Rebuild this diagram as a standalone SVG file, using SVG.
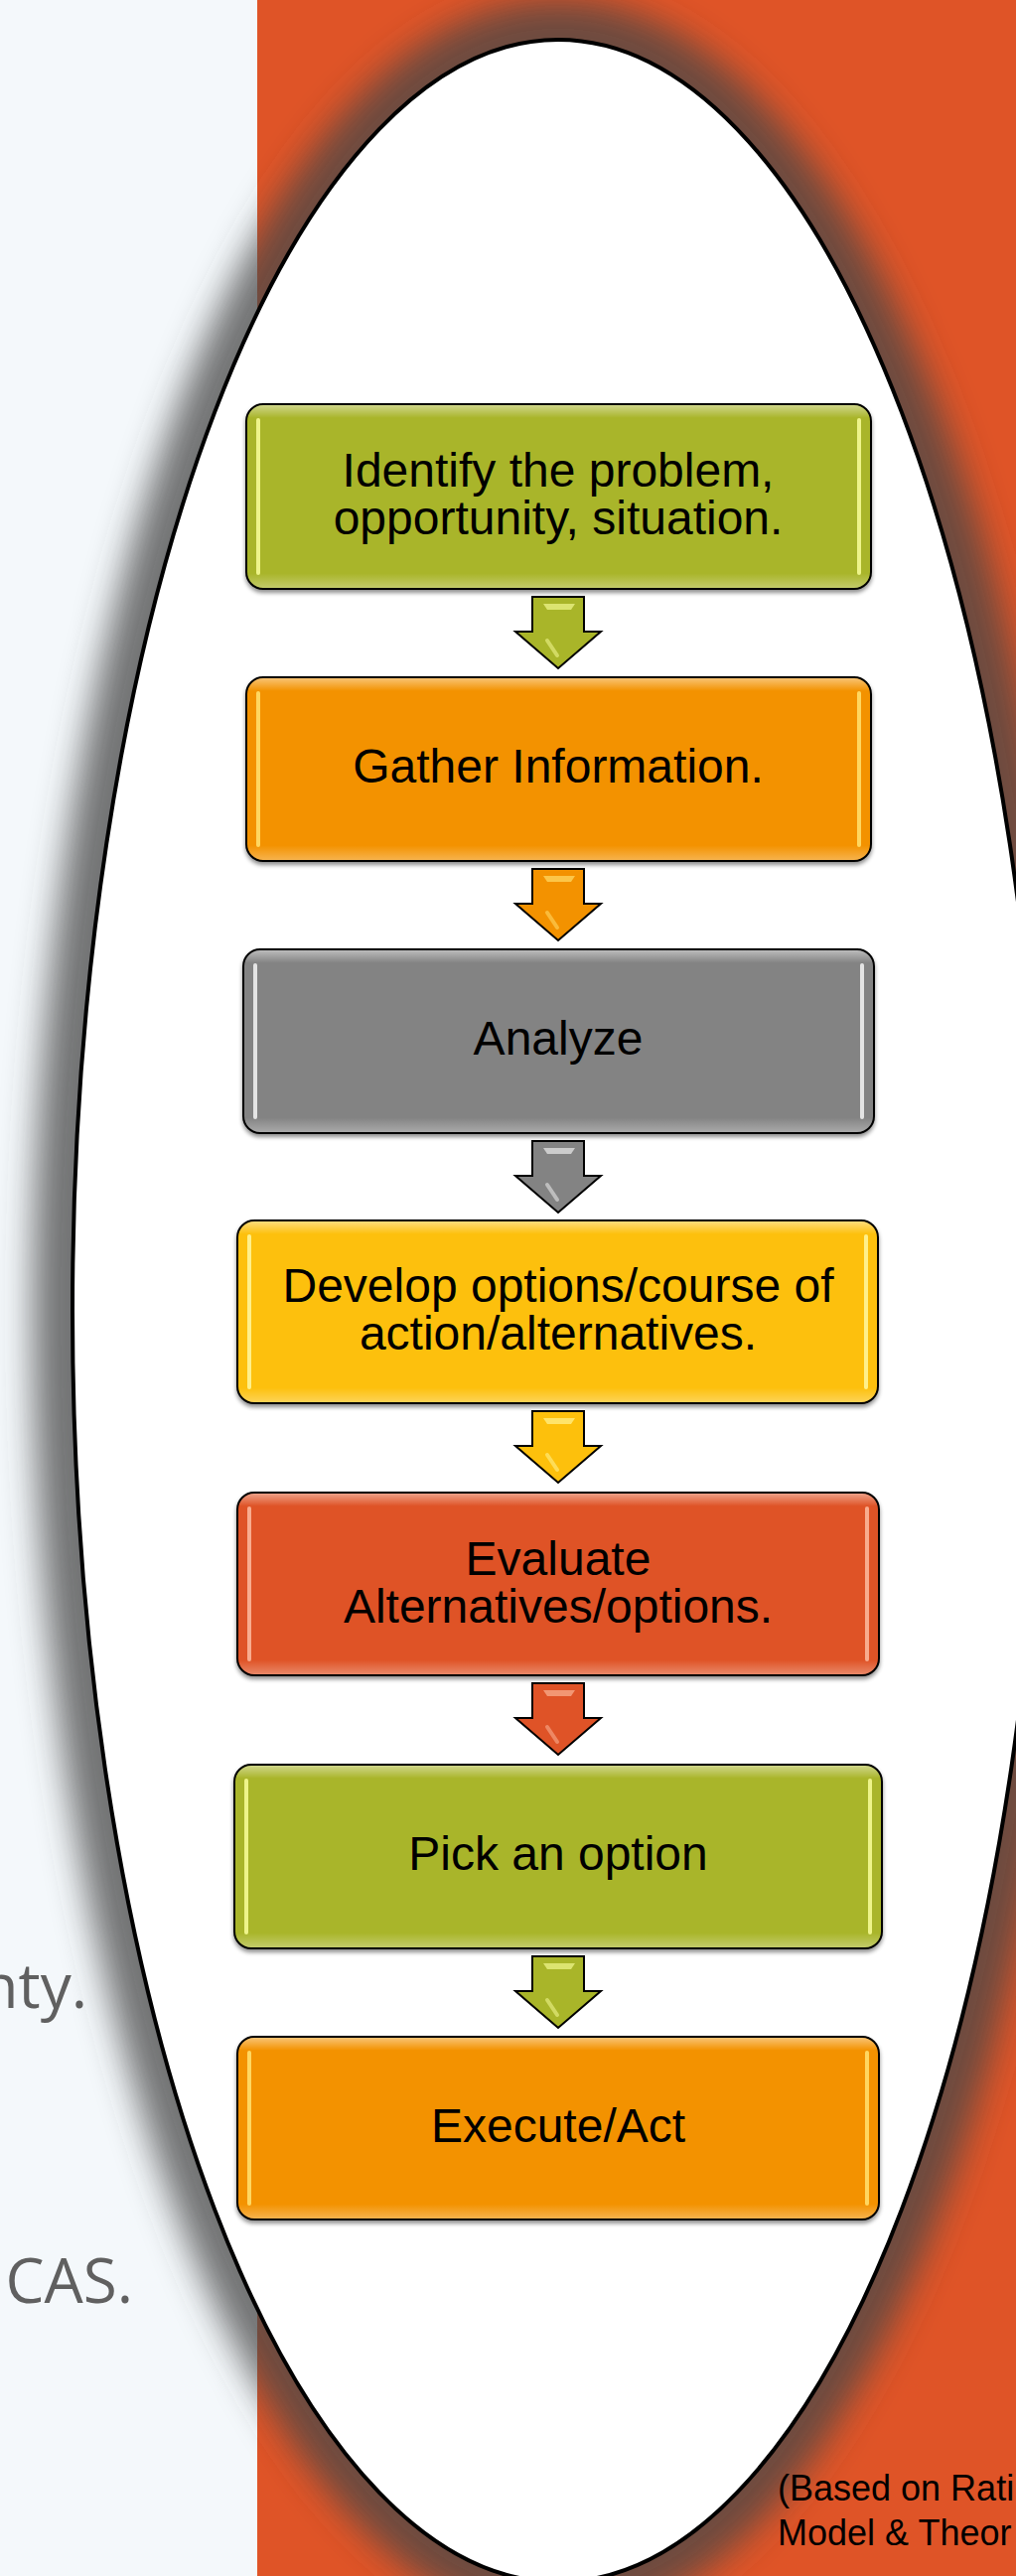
<svg xmlns="http://www.w3.org/2000/svg" width="1023" height="2594" viewBox="0 0 1023 2594">
<style>
.lbl{font-family:"Liberation Sans",Arial,sans-serif;font-size:48px;fill:#000;text-anchor:middle}
.side{font-family:"Open Sans","Liberation Sans",sans-serif;font-size:62px;fill:#606060;text-anchor:end}
.note{font-family:"Liberation Sans",Arial,sans-serif;font-size:36px;fill:#000}
.box{stroke:#000;stroke-width:2}
.hl{stroke-width:4;stroke-linecap:round;fill:none}
.arr{stroke:#000;stroke-width:2;stroke-linejoin:miter}
.green{fill:#A9B529}.orange{fill:#F39200}.gray{fill:#838383}.gold{fill:#FDC00C}.red{fill:#DF5327}
.hgreen{stroke:#EEF48A}.horange{stroke:#FFD760}.hgray{stroke:#E4E4E4}.hgold{stroke:#FFF08A}.hred{stroke:#F8AC8E}
.fgreen{fill:#EEF48A}.forange{fill:#FFD760}.fgray{fill:#E4E4E4}.fgold{fill:#FFF08A}.fred{fill:#F8AC8E}
</style>
<defs>
<filter id="ellShadow" filterUnits="userSpaceOnUse" x="-200" y="-200" width="1500" height="3100">
<feGaussianBlur stdDeviation="17"/>
</filter>
<filter id="boxShadow" x="-5%" y="-10%" width="110%" height="125%">
<feGaussianBlur in="SourceAlpha" stdDeviation="2"/>
<feOffset dy="3"/>
<feComponentTransfer result="s"><feFuncA type="linear" slope="0.45"/></feComponentTransfer>
<feMerge><feMergeNode in="s"/><feMergeNode in="SourceGraphic"/></feMerge>
</filter>
<linearGradient id="gloss" x1="0" y1="0" x2="0" y2="1">
<stop offset="0" stop-color="#fff" stop-opacity="0.45"/>
<stop offset="0.07" stop-color="#fff" stop-opacity="0"/>
<stop offset="0.92" stop-color="#fff" stop-opacity="0"/>
<stop offset="1" stop-color="#fff" stop-opacity="0.3"/>
</linearGradient>
</defs>

<g id="background">
<rect x="0" y="0" width="1023" height="2594" fill="#DF5427"/>
<rect x="0" y="0" width="259" height="2594" fill="#F4F8FB"/>
<text class="side" x="88" y="2022">nty.</text>
<text class="side" x="134" y="2319">CAS.</text>
</g>

<g id="ellipse">
<ellipse cx="562" cy="1320" rx="529" ry="1320" fill="#464646" fill-opacity="0.75" filter="url(#ellShadow)"/>
<ellipse cx="562" cy="1320" rx="489" ry="1280" fill="#fff" stroke="#000" stroke-width="4"/>
</g>

<g id="connectors">
<g id="a1">
<path class="arr green" d="M536,601 H588 V636 H605 L562,673 L519,636 H536 Z"/>
<polygon class="fgreen" opacity="0.75" points="547,608 579,608 575,614 551,614"/>
<line class="hl hgreen" opacity="0.6" x1="551" y1="645" x2="561" y2="660"/>
</g>
<g id="a2">
<path class="arr orange" d="M536,875 H588 V910 H605 L562,947 L519,910 H536 Z"/>
<polygon class="forange" opacity="0.75" points="547,882 579,882 575,888 551,888"/>
<line class="hl horange" opacity="0.6" x1="551" y1="919" x2="561" y2="934"/>
</g>
<g id="a3">
<path class="arr gray" d="M536,1149 H588 V1184 H605 L562,1221 L519,1184 H536 Z"/>
<polygon class="fgray" opacity="0.75" points="547,1156 579,1156 575,1162 551,1162"/>
<line class="hl hgray" opacity="0.6" x1="551" y1="1193" x2="561" y2="1208"/>
</g>
<g id="a4">
<path class="arr gold" d="M536,1421 H588 V1456 H605 L562,1493 L519,1456 H536 Z"/>
<polygon class="fgold" opacity="0.75" points="547,1428 579,1428 575,1434 551,1434"/>
<line class="hl hgold" opacity="0.6" x1="551" y1="1465" x2="561" y2="1480"/>
</g>
<g id="a5">
<path class="arr red" d="M536,1695 H588 V1730 H605 L562,1767 L519,1730 H536 Z"/>
<polygon class="fred" opacity="0.75" points="547,1702 579,1702 575,1708 551,1708"/>
<line class="hl hred" opacity="0.6" x1="551" y1="1739" x2="561" y2="1754"/>
</g>
<g id="a6">
<path class="arr green" d="M536,1970 H588 V2005 H605 L562,2042 L519,2005 H536 Z"/>
<polygon class="fgreen" opacity="0.75" points="547,1977 579,1977 575,1983 551,1983"/>
<line class="hl hgreen" opacity="0.6" x1="551" y1="2014" x2="561" y2="2029"/>
</g>
</g>

<g id="n1">
<rect class="box green" x="248" y="407" width="629" height="186" rx="17" filter="url(#boxShadow)"/>
<rect x="249" y="408" width="627" height="184" rx="16" fill="url(#gloss)"/>
<line class="hl hgreen" x1="260" y1="423" x2="260" y2="577"/>
<line class="hl hgreen" x1="865" y1="423" x2="865" y2="577"/>
<text class="lbl" x="562" y="490">Identify the problem,</text>
<text class="lbl" x="562" y="538">opportunity, situation.</text>
</g>

<g id="n2">
<rect class="box orange" x="248" y="682" width="629" height="185" rx="17" filter="url(#boxShadow)"/>
<rect x="249" y="683" width="627" height="183" rx="16" fill="url(#gloss)"/>
<line class="hl horange" x1="260" y1="698" x2="260" y2="851"/>
<line class="hl horange" x1="865" y1="698" x2="865" y2="851"/>
<text class="lbl" x="562" y="788">Gather Information.</text>
</g>

<g id="n3">
<rect class="box gray" x="245" y="956" width="635" height="185" rx="17" filter="url(#boxShadow)"/>
<rect x="246" y="957" width="633" height="183" rx="16" fill="url(#gloss)"/>
<line class="hl hgray" x1="257" y1="972" x2="257" y2="1125"/>
<line class="hl hgray" x1="868" y1="972" x2="868" y2="1125"/>
<text class="lbl" x="562" y="1062">Analyze</text>
</g>

<g id="n4">
<rect class="box gold" x="239" y="1229" width="645" height="184" rx="17" filter="url(#boxShadow)"/>
<rect x="240" y="1230" width="643" height="182" rx="16" fill="url(#gloss)"/>
<line class="hl hgold" x1="251" y1="1245" x2="251" y2="1397"/>
<line class="hl hgold" x1="872" y1="1245" x2="872" y2="1397"/>
<text class="lbl" x="562" y="1311">Develop options/course of</text>
<text class="lbl" x="562" y="1359">action/alternatives.</text>
</g>

<g id="n5">
<rect class="box red" x="239" y="1503" width="646" height="184" rx="17" filter="url(#boxShadow)"/>
<rect x="240" y="1504" width="644" height="182" rx="16" fill="url(#gloss)"/>
<line class="hl hred" x1="251" y1="1519" x2="251" y2="1671"/>
<line class="hl hred" x1="873" y1="1519" x2="873" y2="1671"/>
<text class="lbl" x="562" y="1586">Evaluate</text>
<text class="lbl" x="562" y="1634">Alternatives/options.</text>
</g>

<g id="n6">
<rect class="box green" x="236" y="1777" width="652" height="185" rx="17" filter="url(#boxShadow)"/>
<rect x="237" y="1778" width="650" height="183" rx="16" fill="url(#gloss)"/>
<line class="hl hgreen" x1="248" y1="1793" x2="248" y2="1946"/>
<line class="hl hgreen" x1="876" y1="1793" x2="876" y2="1946"/>
<text class="lbl" x="562" y="1883">Pick an option</text>
</g>

<g id="n7">
<rect class="box orange" x="239" y="2051" width="646" height="184" rx="17" filter="url(#boxShadow)"/>
<rect x="240" y="2052" width="644" height="182" rx="16" fill="url(#gloss)"/>
<line class="hl horange" x1="251" y1="2067" x2="251" y2="2219"/>
<line class="hl horange" x1="873" y1="2067" x2="873" y2="2219"/>
<text class="lbl" x="562" y="2157">Execute/Act</text>
</g>

<g id="footnote">
<text class="note" x="783" y="2518">(Based on Rati</text>
<text class="note" x="783" y="2563">Model &amp; Theor</text>
</g>
</svg>
